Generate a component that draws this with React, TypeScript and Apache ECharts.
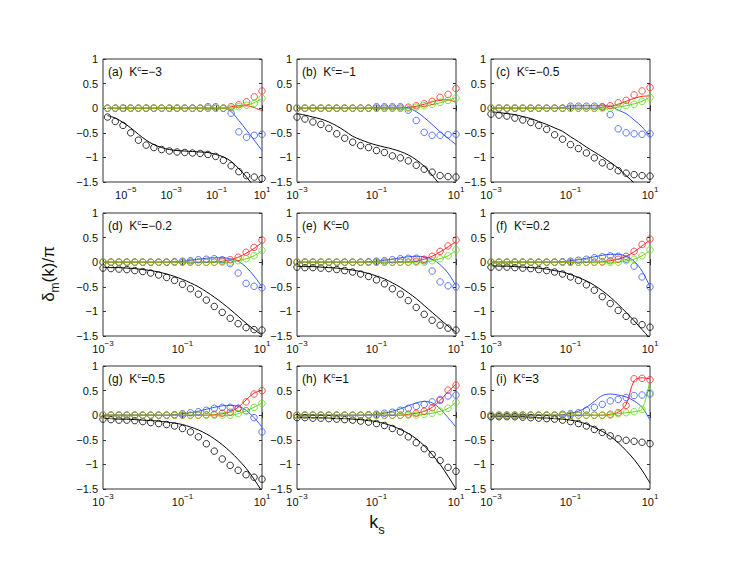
import React, { useEffect, useRef } from "react";
import * as echarts from "echarts";

// ---------- x positions (log10 of k_s) ----------
const EXP_A = [-5.8, -5.46, -5.12, -4.78, -4.44, -4.1, -3.76, -3.42, -3.08, -2.74, -2.4, -2.06, -1.72, -1.38, -1.04, -0.7, -0.36, -0.02, 0.32, 0.66, 1.0];
const EXP_B = [-3, -2.8, -2.6, -2.4, -2.2, -2, -1.8, -1.6, -1.4, -1.2, -1, -0.8, -0.6, -0.4, -0.2, 0, 0.2, 0.4, 0.6, 0.8, 1];

const X_TICKS_A = [1e-5, 1e-3, 1e-1, 10];
const X_TICKS_B = [1e-3, 1e-1, 10];
const Y_MIN = -1.5;
const Y_MAX = 1;
const Y_STEP = 0.5;

const PANEL_TAGS = ["(a)", "(b)", "(c)", "(d)", "(e)", "(f)", "(g)", "(h)", "(i)"];
const KC_VALUES = ["−3", "−1", "−0.5", "−0.2", "0", "0.2", "0.5", "1", "3"];

// ---------- (a) Kc = -3 ----------
const BLACK_PTS_A = [-0.18, -0.27, -0.35, -0.5, -0.65, -0.75, -0.8, -0.84, -0.87, -0.89, -0.9, -0.91, -0.92, -0.94, -0.98, -1.06, -1.17, -1.29, -1.37, -1.4, -1.43];
const BLACK_LINE_A = [-0.15, -0.2, -0.29, -0.4, -0.53, -0.65, -0.74, -0.8, -0.84, -0.86, -0.87, -0.88, -0.89, -0.9, -0.94, -0.99, -1.08, -1.23, -1.4, -1.6, -1.8];
const BLUE_PTS_A = [0, 0, 0, 0, 0, 0, 0, 0, 0, 0, 0, 0, 0, 0.03, 0.03, 0, -0.1, -0.48, -0.59, -0.55, -0.53];
const BLUE_LINE_A = [0, 0, 0, 0, 0, 0, 0, 0, 0, 0, 0, 0, 0, 0, 0, 0, -0.07, -0.25, -0.45, -0.65, -0.86];
const RED_PTS_A = [0, 0, 0, 0, 0, 0, 0, 0, 0, 0, 0, 0, 0, 0, 0, 0, 0.03, 0.07, 0.13, 0.23, 0.35];
const RED_LINE_A = [0, 0, 0, 0, 0, 0, 0, 0, 0, 0, 0, 0, 0, 0, 0, 0, 0.03, 0.05, 0.05, 0.01, -0.05];
const GREEN_PTS_A = [0, 0, 0, 0, 0, 0, 0, 0, 0, 0, 0, 0, 0, 0, 0, 0, 0, 0.03, 0.06, 0.1, 0.2];
const GREEN_LINE_A = [0, 0, 0, 0, 0, 0, 0, 0, 0, 0, 0, 0, 0, 0, 0, 0, 0, 0.03, 0.06, 0.11, 0.2];

// ---------- (b) Kc = -1 ----------
const BLACK_PTS_B = [-0.18, -0.22, -0.28, -0.33, -0.41, -0.52, -0.61, -0.69, -0.76, -0.8, -0.86, -0.9, -0.97, -1.01, -1.07, -1.16, -1.24, -1.3, -1.37, -1.39, -1.4];
const BLACK_LINE_B = [-0.11, -0.14, -0.18, -0.22, -0.28, -0.36, -0.46, -0.57, -0.64, -0.7, -0.75, -0.79, -0.83, -0.88, -0.95, -1.05, -1.18, -1.36, -1.56, -1.75, -1.95];
const BLUE_PTS_B = [0, 0, 0, 0, 0, 0, 0, 0, 0, 0, 0.03, 0.03, 0.03, 0.03, -0.04, -0.25, -0.49, -0.55, -0.55, -0.54, -0.53];
const BLUE_LINE_B = [0, 0, 0, 0, 0, 0, 0, 0, 0, 0, 0.02, 0.02, 0.02, 0.02, 0, -0.07, -0.19, -0.33, -0.48, -0.61, -0.74];
const RED_PTS_B = [0, 0, 0, 0, 0, 0, 0, 0, 0, 0, 0, 0, 0, 0, 0.02, 0.05, 0.09, 0.14, 0.22, 0.28, 0.4];
const RED_LINE_B = [0, 0, 0, 0, 0, 0, 0, 0, 0, 0, 0, 0, 0, 0, 0.02, 0.04, 0.08, 0.13, 0.17, 0.17, 0.12];
const GREEN_PTS_B = [0, 0, 0, 0, 0, 0, 0, 0, 0, 0, 0, 0, 0, 0, 0, 0.02, 0.05, 0.08, 0.12, 0.16, 0.21];
const GREEN_LINE_B = [0, 0, 0, 0, 0, 0, 0, 0, 0, 0, 0, 0, 0, 0, 0, 0.02, 0.04, 0.07, 0.11, 0.16, 0.22];

// ---------- (c) Kc = -0.5 ----------
const BLACK_PTS_C = [-0.12, -0.14, -0.16, -0.2, -0.24, -0.29, -0.35, -0.43, -0.54, -0.63, -0.74, -0.82, -0.91, -1.01, -1.11, -1.18, -1.27, -1.32, -1.35, -1.37, -1.38];
const BLACK_LINE_C = [-0.07, -0.09, -0.11, -0.13, -0.17, -0.21, -0.27, -0.33, -0.4, -0.47, -0.58, -0.68, -0.79, -0.89, -0.99, -1.1, -1.22, -1.37, -1.52, -1.7, -1.9];
const BLUE_PTS_C = [0, 0, 0, 0, 0, 0, 0, 0, 0, 0, 0.04, 0.04, 0.04, 0.04, 0.03, -0.13, -0.42, -0.5, -0.52, -0.53, -0.52];
const BLUE_LINE_C = [0, 0, 0, 0, 0, 0, 0, 0, 0, 0.01, 0.05, 0.05, 0.05, 0.05, 0.05, 0.04, -0.04, -0.11, -0.24, -0.38, -0.58];
const RED_PTS_C = [0, 0, 0, 0, 0, 0, 0, 0, 0, 0, 0, 0, 0, 0, 0.02, 0.05, 0.11, 0.16, 0.27, 0.35, 0.42];
const RED_LINE_C = [0, 0, 0, 0, 0, 0, 0, 0, 0, 0, 0, 0, 0, 0, 0.02, 0.04, 0.08, 0.14, 0.2, 0.24, 0.25];
const GREEN_PTS_C = [0, 0, 0, 0, 0, 0, 0, 0, 0, 0, 0, 0, 0, 0, 0, 0, 0.02, 0.05, 0.08, 0.14, 0.22];
const GREEN_LINE_C = [0, 0, 0, 0, 0, 0, 0, 0, 0, 0, 0, 0, 0, 0, 0, 0, 0.02, 0.05, 0.09, 0.14, 0.23];

// ---------- (d) Kc = -0.2 ----------
const BLACK_PTS_D = [-0.12, -0.13, -0.14, -0.15, -0.17, -0.19, -0.22, -0.26, -0.31, -0.37, -0.45, -0.54, -0.65, -0.77, -0.9, -1.02, -1.14, -1.25, -1.33, -1.37, -1.38];
const BLACK_LINE_D = [-0.1, -0.11, -0.11, -0.12, -0.13, -0.15, -0.17, -0.2, -0.24, -0.29, -0.35, -0.42, -0.5, -0.6, -0.71, -0.83, -0.96, -1.1, -1.24, -1.37, -1.48];
const BLUE_PTS_D = [0, 0, 0, 0, 0, 0, 0, 0, 0, 0.01, 0.02, 0.03, 0.05, 0.06, 0.07, 0.05, -0.03, -0.22, -0.43, -0.49, -0.52];
const BLUE_LINE_D = [0, 0, 0, 0, 0, 0, 0, 0, 0, 0.01, 0.02, 0.04, 0.06, 0.08, 0.09, 0.09, 0.07, 0.02, -0.1, -0.28, -0.5];
const RED_PTS_D = [0, 0, 0, 0, 0, 0, 0, 0, 0, 0, 0, 0, 0, 0, 0, 0.02, 0.05, 0.1, 0.2, 0.3, 0.45];
const RED_LINE_D = [0, 0, 0, 0, 0, 0, 0, 0, 0, 0, 0, 0, 0, 0, 0, 0.02, 0.05, 0.1, 0.18, 0.28, 0.4];
const GREEN_PTS_D = [0, 0, 0, 0, 0, 0, 0, 0, 0, 0, 0, 0, 0, 0, 0, 0, 0, 0.03, 0.07, 0.13, 0.24];
const GREEN_LINE_D = [0, 0, 0, 0, 0, 0, 0, 0, 0, 0, 0, 0, 0, 0, 0, 0, 0, 0.03, 0.07, 0.13, 0.23];

// ---------- (e) Kc = 0 ----------
const BLACK_PTS_E = [-0.1, -0.11, -0.11, -0.12, -0.13, -0.15, -0.17, -0.2, -0.24, -0.29, -0.36, -0.44, -0.54, -0.65, -0.78, -0.92, -1.06, -1.18, -1.28, -1.34, -1.38];
const BLACK_LINE_E = [-0.08, -0.09, -0.09, -0.1, -0.11, -0.12, -0.14, -0.16, -0.19, -0.23, -0.28, -0.34, -0.42, -0.51, -0.62, -0.74, -0.88, -1.02, -1.16, -1.3, -1.42];
const BLUE_PTS_E = [0, 0, 0, 0, 0, 0, 0, 0, 0, 0.01, 0.02, 0.03, 0.05, 0.07, 0.08, 0.08, 0.03, -0.18, -0.4, -0.48, -0.5];
const BLUE_LINE_E = [0, 0, 0, 0, 0, 0, 0, 0, 0, 0.01, 0.02, 0.04, 0.06, 0.09, 0.11, 0.12, 0.11, 0.06, -0.05, -0.22, -0.48];
const RED_PTS_E = [0, 0, 0, 0, 0, 0, 0, 0, 0, 0, 0, 0, 0, 0, 0, 0.02, 0.06, 0.12, 0.22, 0.33, 0.45];
const RED_LINE_E = [0, 0, 0, 0, 0, 0, 0, 0, 0, 0, 0, 0, 0, 0, 0, 0.02, 0.06, 0.12, 0.21, 0.31, 0.42];
const GREEN_PTS_E = [0, 0, 0, 0, 0, 0, 0, 0, 0, 0, 0, 0, 0, 0, 0, 0, 0, 0.03, 0.07, 0.13, 0.25];
const GREEN_LINE_E = [0, 0, 0, 0, 0, 0, 0, 0, 0, 0, 0, 0, 0, 0, 0, 0, 0, 0.03, 0.07, 0.13, 0.24];

// ---------- (f) Kc = 0.2 ----------
const BLACK_PTS_F = [-0.1, -0.1, -0.1, -0.11, -0.12, -0.13, -0.15, -0.17, -0.2, -0.24, -0.3, -0.37, -0.46, -0.57, -0.7, -0.84, -0.98, -1.1, -1.2, -1.27, -1.32];
const BLACK_LINE_F = [-0.07, -0.08, -0.08, -0.09, -0.1, -0.11, -0.12, -0.14, -0.17, -0.2, -0.25, -0.31, -0.38, -0.47, -0.58, -0.71, -0.86, -1.02, -1.19, -1.37, -1.55];
const BLUE_PTS_F = [0, 0, 0, 0, 0, 0, 0, 0, 0, 0.01, 0.02, 0.04, 0.06, 0.09, 0.11, 0.13, 0.12, 0.06, -0.08, -0.3, -0.5];
const BLUE_LINE_F = [0, 0, 0, 0, 0, 0, 0, 0, 0, 0.01, 0.03, 0.05, 0.08, 0.11, 0.14, 0.16, 0.16, 0.12, 0.02, -0.18, -0.5];
const RED_PTS_F = [0, 0, 0, 0, 0, 0, 0, 0, 0, 0, 0, 0, 0, 0, 0.01, 0.03, 0.06, 0.12, 0.22, 0.36, 0.47];
const RED_LINE_F = [0, 0, 0, 0, 0, 0, 0, 0, 0, 0, 0, 0, 0, 0, 0.01, 0.03, 0.06, 0.12, 0.21, 0.33, 0.45];
const GREEN_PTS_F = [0, 0, 0, 0, 0, 0, 0, 0, 0, 0, 0, 0, 0, 0, 0, 0, 0, 0.03, 0.06, 0.13, 0.25];
const GREEN_LINE_F = [0, 0, 0, 0, 0, 0, 0, 0, 0, 0, 0, 0, 0, 0, 0, 0, 0, 0.03, 0.06, 0.13, 0.24];

// ---------- (g) Kc = 0.5 ----------
const BLACK_PTS_G = [-0.08, -0.09, -0.1, -0.1, -0.11, -0.13, -0.15, -0.17, -0.19, -0.22, -0.27, -0.34, -0.44, -0.58, -0.73, -0.89, -1.02, -1.12, -1.21, -1.26, -1.3];
const BLACK_LINE_G = [-0.06, -0.07, -0.08, -0.08, -0.09, -0.1, -0.11, -0.12, -0.14, -0.16, -0.19, -0.24, -0.3, -0.38, -0.48, -0.6, -0.74, -0.9, -1.08, -1.3, -1.55];
const BLUE_PTS_G = [0, 0, 0, 0, 0, 0, 0, 0, 0, 0.01, 0.03, 0.05, 0.07, 0.1, 0.14, 0.16, 0.16, 0.14, 0.09, -0.05, -0.34];
const BLUE_LINE_G = [0, 0, 0, 0, 0, 0, 0, 0, 0, 0.01, 0.03, 0.05, 0.08, 0.12, 0.16, 0.19, 0.2, 0.18, 0.1, -0.05, -0.24];
const RED_PTS_G = [0, 0, 0, 0, 0, 0, 0, 0, 0, 0, 0, 0, 0, 0.01, 0.02, 0.04, 0.06, 0.14, 0.27, 0.43, 0.5];
const RED_LINE_G = [0, 0, 0, 0, 0, 0, 0, 0, 0, 0, 0, 0, 0, 0, 0.01, 0.03, 0.07, 0.16, 0.31, 0.45, 0.5];
const GREEN_PTS_G = [0, 0, 0, 0, 0, 0, 0, 0, 0, 0, 0, 0, 0, 0, 0, 0, 0, 0.03, 0.09, 0.16, 0.24];
const GREEN_LINE_G = [0, 0, 0, 0, 0, 0, 0, 0, 0, 0, 0, 0, 0, 0, 0, 0, 0, 0.03, 0.09, 0.16, 0.25];

// ---------- (h) Kc = 1 ----------
const BLACK_PTS_H = [-0.05, -0.05, -0.06, -0.06, -0.07, -0.08, -0.09, -0.1, -0.12, -0.14, -0.17, -0.21, -0.27, -0.34, -0.44, -0.56, -0.68, -0.8, -0.92, -1.06, -1.14];
const BLACK_LINE_H = [-0.04, -0.04, -0.05, -0.05, -0.06, -0.07, -0.07, -0.08, -0.09, -0.11, -0.13, -0.17, -0.22, -0.29, -0.37, -0.48, -0.62, -0.8, -1.0, -1.24, -1.5];
const BLUE_PTS_H = [0, 0, 0, 0, 0, 0, 0, 0, 0, 0.01, 0.02, 0.04, 0.06, 0.1, 0.14, 0.18, 0.22, 0.27, 0.32, 0.39, 0.41];
const BLUE_LINE_H = [0, 0, 0, 0, 0, 0, 0, 0, 0, 0.01, 0.02, 0.04, 0.08, 0.13, 0.19, 0.25, 0.28, 0.25, 0.13, -0.05, -0.24];
const RED_PTS_H = [0, 0, 0, 0, 0, 0, 0, 0, 0, 0, 0, 0, 0, 0, 0.02, 0.04, 0.08, 0.15, 0.3, 0.51, 0.61];
const RED_LINE_H = [0, 0, 0, 0, 0, 0, 0, 0, 0, 0, 0, 0, 0, 0, 0.02, 0.04, 0.08, 0.16, 0.3, 0.48, 0.63];
const GREEN_PTS_H = [0, 0, 0, 0, 0, 0, 0, 0, 0, 0, 0, 0, 0, 0, 0, 0, 0.02, 0.04, 0.08, 0.14, 0.26];
const GREEN_LINE_H = [0, 0, 0, 0, 0, 0, 0, 0, 0, 0, 0, 0, 0, 0, 0, 0, 0.02, 0.04, 0.08, 0.14, 0.27];

// ---------- (i) Kc = 3 ----------
const BLACK_PTS_I = [-0.03, -0.03, -0.03, -0.03, -0.04, -0.05, -0.06, -0.07, -0.08, -0.1, -0.13, -0.17, -0.22, -0.29, -0.35, -0.42, -0.48, -0.51, -0.53, -0.55, -0.58];
const BLACK_LINE_I = [-0.02, -0.02, -0.02, -0.03, -0.03, -0.04, -0.05, -0.06, -0.07, -0.08, -0.1, -0.13, -0.18, -0.25, -0.33, -0.43, -0.56, -0.72, -0.9, -1.12, -1.38];
const BLUE_PTS_I = [0, 0, 0, 0, 0, 0, 0, 0, 0, 0.02, 0.03, 0.05, 0.1, 0.16, 0.22, 0.29, 0.32, 0.36, 0.4, 0.41, 0.43];
const BLUE_LINE_I = [0, 0, 0, 0, 0, 0, 0, 0, 0, 0.01, 0.04, 0.08, 0.16, 0.28, 0.4, 0.43, 0.41, 0.37, 0.29, 0.16, -0.1];
const RED_PTS_I = [0, 0, 0, 0, 0, 0, 0, 0, 0, 0, 0, 0, 0, 0, 0, 0.02, 0.05, 0.2, 0.74, 0.75, 0.72];
const RED_LINE_I = [0, 0, 0, 0, 0, 0, 0, 0, 0, 0, 0, 0, 0, 0, 0, 0.02, 0.06, 0.22, 0.7, 0.76, 0.74];
const GREEN_PTS_I = [0, 0, 0, 0, 0, 0, 0, 0, 0, 0, 0, 0, 0, 0, 0, 0, 0.03, 0.05, 0.07, 0.12, 0.46];
const GREEN_LINE_I = [0, 0, 0, 0, 0, 0, 0, 0, 0, 0, 0, 0, 0, 0, 0, 0, 0.03, 0.05, 0.07, 0.12, 0.72];

// ---------- styling ----------
const COLORS = { black: "#000000", blue: "#3355ff", red: "#ff2626", green: "#62dd10" };
const AXIS_COLOR = "#333333";
const TEXT_COLOR = "#111111";
const FONT = "Liberation Sans, Arial, Helvetica, sans-serif";
const GRID_LEFT = [103, 297, 491];
const GRID_TOP = [59, 213, 366];
const GRID_W = 159;
const GRID_H = 123;

const PANELS = [
  { xMin: 1e-6, ticks: X_TICKS_A, exps: EXP_A, black: [BLACK_PTS_A, BLACK_LINE_A], blue: [BLUE_PTS_A, BLUE_LINE_A], red: [RED_PTS_A, RED_LINE_A], green: [GREEN_PTS_A, GREEN_LINE_A] },
  { xMin: 1e-3, ticks: X_TICKS_B, exps: EXP_B, black: [BLACK_PTS_B, BLACK_LINE_B], blue: [BLUE_PTS_B, BLUE_LINE_B], red: [RED_PTS_B, RED_LINE_B], green: [GREEN_PTS_B, GREEN_LINE_B] },
  { xMin: 1e-3, ticks: X_TICKS_B, exps: EXP_B, black: [BLACK_PTS_C, BLACK_LINE_C], blue: [BLUE_PTS_C, BLUE_LINE_C], red: [RED_PTS_C, RED_LINE_C], green: [GREEN_PTS_C, GREEN_LINE_C] },
  { xMin: 1e-3, ticks: X_TICKS_B, exps: EXP_B, black: [BLACK_PTS_D, BLACK_LINE_D], blue: [BLUE_PTS_D, BLUE_LINE_D], red: [RED_PTS_D, RED_LINE_D], green: [GREEN_PTS_D, GREEN_LINE_D] },
  { xMin: 1e-3, ticks: X_TICKS_B, exps: EXP_B, black: [BLACK_PTS_E, BLACK_LINE_E], blue: [BLUE_PTS_E, BLUE_LINE_E], red: [RED_PTS_E, RED_LINE_E], green: [GREEN_PTS_E, GREEN_LINE_E] },
  { xMin: 1e-3, ticks: X_TICKS_B, exps: EXP_B, black: [BLACK_PTS_F, BLACK_LINE_F], blue: [BLUE_PTS_F, BLUE_LINE_F], red: [RED_PTS_F, RED_LINE_F], green: [GREEN_PTS_F, GREEN_LINE_F] },
  { xMin: 1e-3, ticks: X_TICKS_B, exps: EXP_B, black: [BLACK_PTS_G, BLACK_LINE_G], blue: [BLUE_PTS_G, BLUE_LINE_G], red: [RED_PTS_G, RED_LINE_G], green: [GREEN_PTS_G, GREEN_LINE_G] },
  { xMin: 1e-3, ticks: X_TICKS_B, exps: EXP_B, black: [BLACK_PTS_H, BLACK_LINE_H], blue: [BLUE_PTS_H, BLUE_LINE_H], red: [RED_PTS_H, RED_LINE_H], green: [GREEN_PTS_H, GREEN_LINE_H] },
  { xMin: 1e-3, ticks: X_TICKS_B, exps: EXP_B, black: [BLACK_PTS_I, BLACK_LINE_I], blue: [BLUE_PTS_I, BLUE_LINE_I], red: [RED_PTS_I, RED_LINE_I], green: [GREEN_PTS_I, GREEN_LINE_I] },
];

const minusify = (s: string) => s.replace(/-/g, "−");

function buildOption() {
  const grids: any[] = [];
  const xAxes: any[] = [];
  const yAxes: any[] = [];
  const series: any[] = [];
  const graphics: any[] = [];

  PANELS.forEach((p, i) => {
    const row = Math.floor(i / 3);
    const col = i % 3;
    const left = GRID_LEFT[col];
    const top = GRID_TOP[row];
    grids.push({
      left, top, width: GRID_W, height: GRID_H,
      show: true, borderColor: AXIS_COLOR, borderWidth: 1,
      backgroundColor: "transparent", containLabel: false, outerBoundsMode: "none",
    });
    const tickCommon = { inside: true, length: 3, lineStyle: { color: AXIS_COLOR, width: 1 }, customValues: p.ticks };
    xAxes.push({
      type: "log", logBase: 10, gridIndex: i, min: p.xMin, max: 10, position: "bottom",
      axisLine: { show: false }, splitLine: { show: false }, minorTick: { show: false },
      axisTick: tickCommon,
      axisLabel: {
        customValues: p.ticks, margin: 3, color: TEXT_COLOR, fontFamily: FONT,
        formatter: (v: number) => {
          const e = Math.round(Math.log10(v));
          return "{b|10}{e|" + minusify(String(e)) + "}";
        },
        rich: {
          b: { fontSize: 11, fontFamily: FONT, color: TEXT_COLOR, verticalAlign: "bottom" },
          e: { fontSize: 8, fontFamily: FONT, color: TEXT_COLOR, verticalAlign: "bottom", padding: [0, 0, 7, 0] },
        },
      },
    });
    xAxes.push({
      type: "log", logBase: 10, gridIndex: i, min: p.xMin, max: 10, position: "top",
      axisLine: { show: false }, splitLine: { show: false },
      axisTick: tickCommon, axisLabel: { show: false, customValues: p.ticks },
    });
    const yTick = { inside: true, length: 3, lineStyle: { color: AXIS_COLOR, width: 1 } };
    yAxes.push({
      type: "value", gridIndex: i, min: Y_MIN, max: Y_MAX, interval: Y_STEP, position: "left",
      axisLine: { show: false }, splitLine: { show: false }, axisTick: yTick,
      axisLabel: {
        margin: 5, fontSize: 11, color: TEXT_COLOR, fontFamily: FONT,
        formatter: (v: number) => minusify(String(v)),
      },
    });
    yAxes.push({
      type: "value", gridIndex: i, min: Y_MIN, max: Y_MAX, interval: Y_STEP, position: "right",
      axisLine: { show: false }, splitLine: { show: false }, axisTick: yTick,
      axisLabel: { show: false },
    });

    (["black", "blue", "red", "green"] as const).forEach((key, ci) => {
      const [pts, line] = (p as any)[key] as number[][];
      const color = (COLORS as any)[key];
      series.push({
        type: "line", xAxisIndex: 2 * i, yAxisIndex: 2 * i, silent: true,
        data: p.exps.map((e, j) => [Math.pow(10, e), line[j]]),
        showSymbol: false, symbol: "none", smooth: 0.35,
        lineStyle: { color, width: 1 }, z: 2 + ci,
      });
      series.push({
        type: "scatter", xAxisIndex: 2 * i, yAxisIndex: 2 * i, silent: true,
        data: p.exps.map((e, j) => [Math.pow(10, e), pts[j]]),
        symbol: "circle", symbolSize: 6.5,
        itemStyle: { color: "rgba(0,0,0,0)", borderColor: color, borderWidth: 1 },
        z: 6 + ci,
      });
    });

    graphics.push({
      type: "text", left: left + 5, top: top + 5, z: 100,
      style: {
        text: "{n|" + PANEL_TAGS[i] + "  K}{s|c}{n|=" + KC_VALUES[i] + "}",
        rich: {
          n: { fontSize: 12, fontFamily: FONT, fill: TEXT_COLOR, verticalAlign: "bottom" },
          s: { fontSize: 8, fontFamily: FONT, fill: TEXT_COLOR, verticalAlign: "bottom", padding: [0, 0, 6, 0] },
        },
      },
    });
  });

  graphics.push({
    type: "text", x: 50, y: 274, rotation: Math.PI / 2, z: 100,
    style: {
      text: "{a|δ}{b|m}{a|(k)/π}", textAlign: "center", textVerticalAlign: "middle",
      rich: {
        a: { fontSize: 17, fontFamily: FONT, fill: TEXT_COLOR, verticalAlign: "bottom", padding: [0, 0, 4, 0] },
        b: { fontSize: 12, fontFamily: FONT, fill: TEXT_COLOR, verticalAlign: "bottom" },
      },
    },
  });
  graphics.push({
    type: "text", x: 377, y: 524, z: 100,
    style: {
      text: "{a|k}{b|s}", textAlign: "center", textVerticalAlign: "middle",
      rich: {
        a: { fontSize: 18, fontFamily: FONT, fill: TEXT_COLOR, verticalAlign: "bottom", padding: [0, 0, 5, 0] },
        b: { fontSize: 13, fontFamily: FONT, fill: TEXT_COLOR, verticalAlign: "bottom" },
      },
    },
  });

  return {
    animation: false,
    backgroundColor: "#ffffff",
    textStyle: { fontFamily: FONT },
    grid: grids,
    xAxis: xAxes,
    yAxis: yAxes,
    series,
    graphic: graphics,
  };
}

export default function App() {
  const ref = useRef<HTMLDivElement>(null);
  useEffect(() => {
    if (!ref.current) return;
    const chart = echarts.init(ref.current, undefined, { renderer: "svg" });
    chart.setOption(buildOption() as any);
    return () => chart.dispose();
  }, []);
  return (
    <div
      ref={ref}
      style={{ position: "absolute", left: 0, top: 0, width: 742, height: 567, background: "#fff" }}
    />
  );
}
